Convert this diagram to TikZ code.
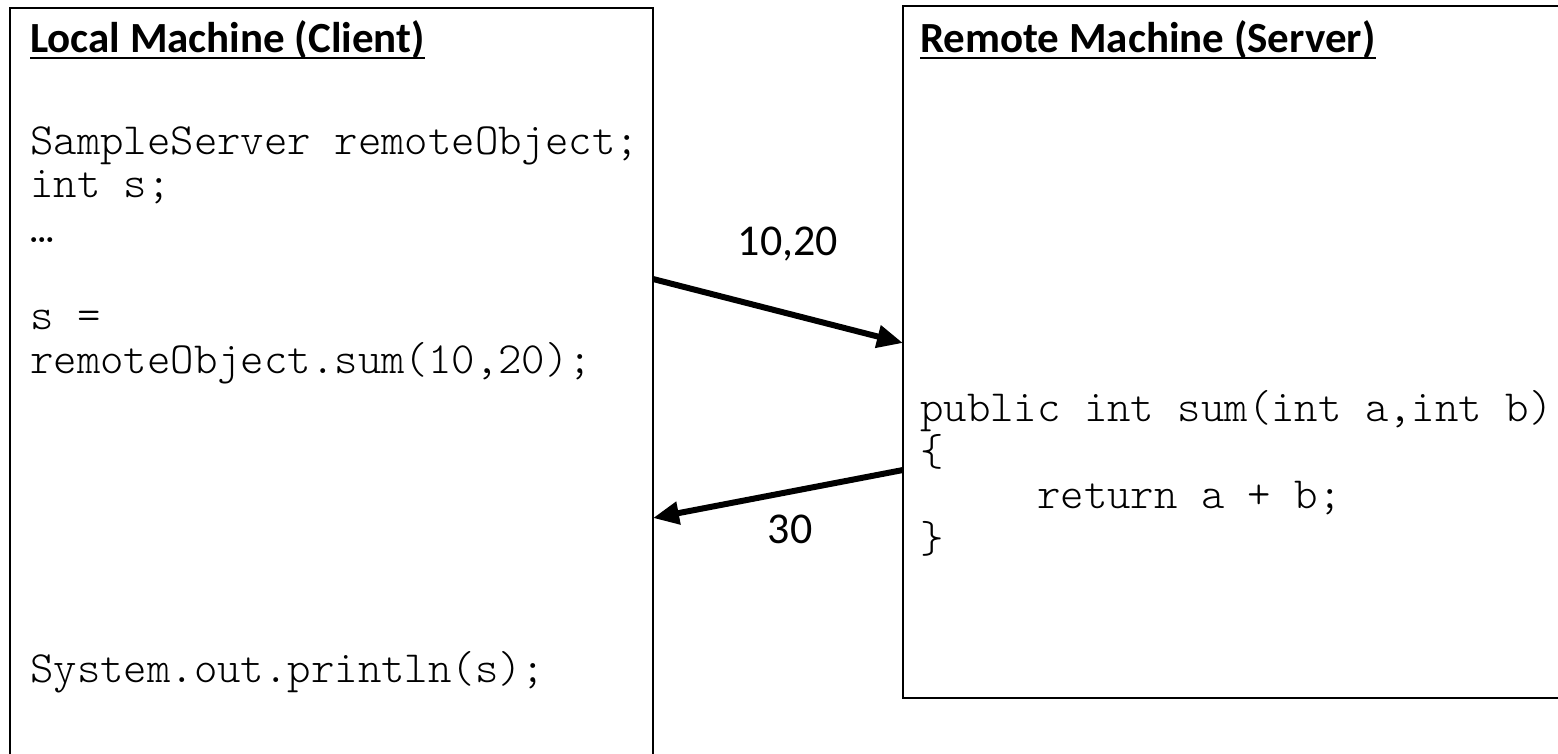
\documentclass[tikz,border=0pt]{standalone}
\usepackage{fontspec}
\setmainfont{Carlito}
\newfontfamily\codefont{Latin Modern Mono Light}
\usetikzlibrary{arrows.meta}
\tikzset{
  machine/.style={draw=black, line width=2pt},
  heading/.style={anchor=base west, inner sep=0pt, font=\fontsize{43}{46}\selectfont\bfseries},
  code/.style={anchor=base west, inner sep=0pt, font=\fontsize{44.6}{44}\selectfont\codefont},
  msg/.style={anchor=base, inner sep=0pt, font=\fontsize{44}{48}\selectfont},
  call/.style={line width=6pt, -{Triangle[length=26pt,width=22pt]}}
}
\begin{document}
\begin{tikzpicture}[x=1pt,y=-1pt]
\useasboundingbox (0,0) rectangle (1558,754);
% the two machines (left one runs off the bottom, right one off the right)
\draw[machine] (10,8) rectangle (653,800);
\draw[machine] (903,6) rectangle (1600,698);
% headings
\node[heading] (lhead) at (30,53) {Local Machine (Client)};
\node[heading] (rhead) at (920,53) {Remote Machine (Server)};
\draw[line width=2.5pt] ([yshift=-5pt]lhead.base west) -- ([yshift=-5pt]lhead.base east);
\draw[line width=2.5pt] ([yshift=-5pt]rhead.base west) -- ([yshift=-5pt]rhead.base east);
% client code
\node[code] (cdecl) at (30,155) {SampleServer remoteObject;};
\node[code] (cint) at (30,198) {int s;};
\node[code] (cdots) at (30,242) {…};
\node[code] (cassign) at (30,329) {s =};
\node[code] (ccall) at (30,373) {remoteObject.sum(10,20);};
\node[code] (cprint) at (30,682) {System.out.println(s);};
% server code
\node[code] (ssig) at (920,421) {public int sum(int a,int b)};
\node[code] (sopen) at (920,465) {\{};
\node[code] (sret) at (920,508) {\phantom{xxxxx}return a + b;};
\node[code] (sclose) at (920,552) {\}};
% messages
\coordinate (reqout) at (653,279);
\coordinate (reqin) at (903,343);
\coordinate (repout) at (903,470);
\coordinate (repin) at (653,518);
\draw[call] (reqout) -- (reqin);
\draw[call] (repout) -- (repin);
\node[msg] (args) at (788,255) {10,20};
\node[msg] (result) at (790,543) {30};
\end{tikzpicture}
\end{document}
